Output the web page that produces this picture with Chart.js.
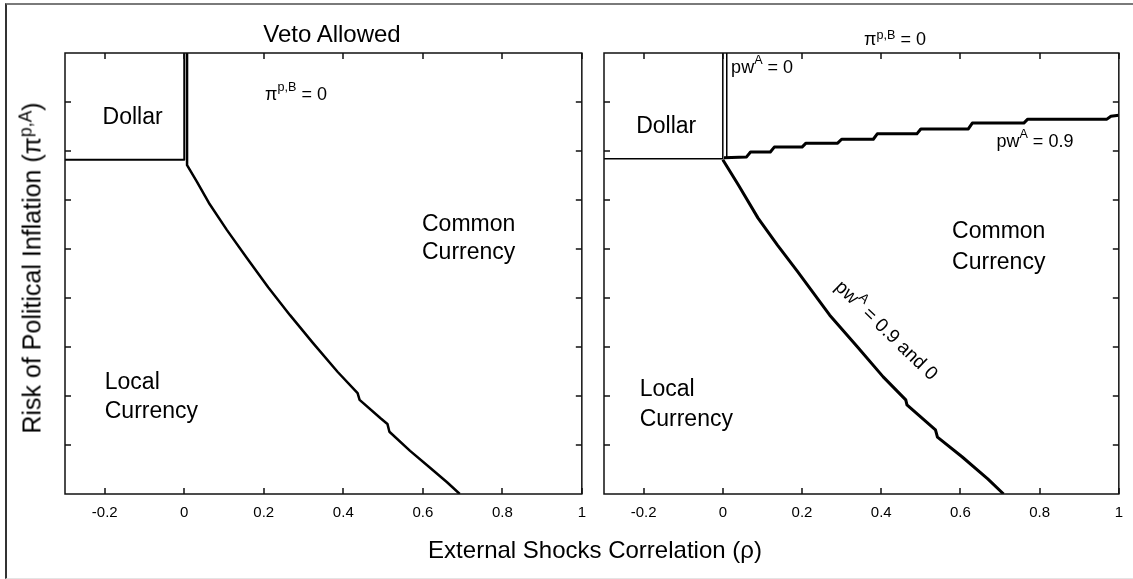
<!DOCTYPE html>
<html>
<head>
<meta charset="utf-8">
<script src="https://cdn.jsdelivr.net/npm/chart.js@4.4.0/dist/chart.umd.min.js"></script>
<style>
  body { margin: 0; background: #fff; }
  #wrap { position: relative; width: 1133px; height: 579px; overflow: hidden; font-family: "Liberation Sans", Arial, sans-serif; color: #000; }
  .frame { position: absolute; left: 5px; top: 3px; width: 1140px; height: 573px; border-top: 2px solid #7a7a7a; border-left: 2px solid #333; border-bottom: 1px solid #e4e4e4; }
  canvas { position: absolute; top: 0; }
  .txt { position: absolute; white-space: nowrap; line-height: 1; transform: translate(-50%, -50%); }
  .sup { font-size: 0.7em; position: relative; top: -0.5em; }
</style>
</head>
<body>
<div id="wrap">
  <div class="frame"></div>
  <canvas id="veto" width="596" height="579" style="left:0"></canvas>
  <canvas id="nopb" width="538" height="579" style="left:595px"></canvas>
  <div class="txt" style="left:332px;top:34px;font-size:24px">Veto Allowed</div>
  <div class="txt" style="left:895px;top:39px;font-size:18px">&pi;<span class="sup">p,B</span> = 0</div>
  <div class="txt" style="left:595px;top:550px;font-size:24px">External Shocks Correlation (&rho;)</div>
  <div class="txt" style="left:32px;top:268px;font-size:25px;transform:translate(-50%,-50%) rotate(-90deg)">Risk of Political Inflation (&pi;<span class="sup">p,A</span>)</div>
</div>
<script>
// x axis (rho) ticks, y axis has unlabeled ticks only
var rhoTicks = [-0.2, 0, 0.2, 0.4, 0.6, 0.8, 1];
var piTicks = [1, 2, 3, 4, 5, 6, 7, 8];

// left panel: veto allowed
var vetoDollarRho = [-0.3, 0.0, 0.0];
var vetoDollarPi = [6.82, 6.82, 9];
var vetoBoundRho = [0.007, 0.007, 0.032, 0.062, 0.107, 0.157, 0.211, 0.266, 0.324, 0.386, 0.436, 0.441, 0.493, 0.511, 0.516, 0.568, 0.616, 0.661, 0.693];
var vetoBoundPi = [9, 6.71, 6.37, 5.94, 5.39, 4.82, 4.22, 3.65, 3.08, 2.49, 2.06, 1.92, 1.55, 1.43, 1.27, 0.88, 0.55, 0.24, 0];

// right panel: pi^{p,B} = 0
var nopbDollarRho = [-0.3, 0.0, 0.0];
var nopbDollarPi = [6.84, 6.84, 9];
var pw0Rho = [0.01, 0.01];
var pw0Pi = [9, 6.86];
var pw09Rho = [0.003, 0.06, 0.07, 0.12, 0.13, 0.20, 0.21, 0.29, 0.30, 0.38, 0.39, 0.49, 0.50, 0.62, 0.63, 0.76, 0.77, 0.97, 0.98, 1.0];
var pw09Pi = [6.86, 6.88, 6.98, 6.98, 7.08, 7.08, 7.16, 7.16, 7.24, 7.24, 7.35, 7.35, 7.45, 7.45, 7.57, 7.57, 7.65, 7.65, 7.71, 7.73];
var pwBothRho = [0.0, 0.039, 0.089, 0.138, 0.188, 0.270, 0.338, 0.405, 0.462, 0.465, 0.537, 0.542, 0.604, 0.669, 0.709];
var pwBothPi = [6.82, 6.31, 5.63, 5.08, 4.55, 3.65, 3.02, 2.39, 1.92, 1.82, 1.31, 1.16, 0.76, 0.31, 0];

var FONT = '"Liberation Sans", Arial, sans-serif';

function pts(xs, ys) {
  return xs.map(function(v, i) { return {x: v, y: ys[i]}; });
}

function line(data, width, color) {
  return {data: data, borderColor: color || '#000', borderWidth: width, pointRadius: 0,
          fill: false, tension: 0, borderJoinStyle: 'round'};
}

// box with inward ticks like the original figure
var framePlugin = {
  id: 'frame',
  afterDraw: function(chart) {
    var ctx = chart.ctx, a = chart.chartArea, sx = chart.scales.x, sy = chart.scales.y;
    ctx.save();
    ctx.strokeStyle = '#111';
    ctx.lineWidth = 1.5;
    ctx.strokeRect(a.left, a.top, a.right - a.left, a.bottom - a.top);
    ctx.beginPath();
    rhoTicks.forEach(function(v) {
      var px = Math.round(sx.getPixelForValue(v));
      ctx.moveTo(px, a.bottom); ctx.lineTo(px, a.bottom - 6);
      ctx.moveTo(px, a.top); ctx.lineTo(px, a.top + 6);
    });
    piTicks.forEach(function(v) {
      var py = Math.round(sy.getPixelForValue(v));
      ctx.moveTo(a.left, py); ctx.lineTo(a.left + 6, py);
      ctx.moveTo(a.right, py); ctx.lineTo(a.right - 6, py);
    });
    ctx.stroke();
    ctx.restore();
  }
};

function drawRich(ctx, parts, x, y, size, align) {
  var widths = [], total = 0;
  parts.forEach(function(p) {
    ctx.font = (p[1] ? size * 0.7 : size) + 'px ' + FONT;
    var w = ctx.measureText(p[0]).width;
    widths.push(w); total += w;
  });
  var cx = align === 'left' ? x : x - total / 2;
  parts.forEach(function(p, i) {
    ctx.font = (p[1] ? size * 0.7 : size) + 'px ' + FONT;
    ctx.fillText(p[0], cx, p[1] ? y - size * 0.4 : y);
    cx += widths[i];
  });
}

function notesPlugin(notes) {
  return {
    id: 'notes',
    afterDatasetsDraw: function(chart) {
      var ctx = chart.ctx, sx = chart.scales.x, sy = chart.scales.y;
      ctx.save();
      ctx.fillStyle = '#000';
      ctx.textBaseline = 'middle';
      ctx.textAlign = 'left';
      notes.forEach(function(n) {
        var px = sx.getPixelForValue(n.x), py = sy.getPixelForValue(n.y);
        ctx.save();
        ctx.translate(px, py);
        if (n.rot) ctx.rotate(n.rot * Math.PI / 180);
        drawRich(ctx, n.parts, 0, 0, n.size, n.align);
        ctx.restore();
      });
      ctx.restore();
    }
  };
}

function makePanel(id, datasets, notes, padLeft, padRight) {
  var ctx = document.getElementById(id).getContext('2d');
  return new Chart(ctx, {
    type: 'line',
    data: {datasets: datasets},
    options: {
      responsive: false,
      animation: false,
      events: [],
      layout: {padding: {left: padLeft, right: padRight, top: 53, bottom: 0}},
      plugins: {legend: {display: false}, tooltip: {enabled: false}},
      scales: {
        x: {
          type: 'linear', min: -0.3, max: 1,
          afterBuildTicks: function(s) { s.ticks = rhoTicks.map(function(v) { return {value: v}; }); },
          afterFit: function(s) { s.height = 85; },
          grid: {display: false, drawTicks: false},
          border: {display: false},
          ticks: {padding: 10, color: '#000', autoSkip: false, maxRotation: 0,
                  font: {family: FONT, size: 15},
                  callback: function(v) { return String(v); }}
        },
        y: {type: 'linear', min: 0, max: 9, display: false}
      }
    },
    plugins: [framePlugin, notesPlugin(notes)]
  });
}

makePanel('veto', [
  line(pts(vetoDollarRho, vetoDollarPi), 2),
  line(pts(vetoBoundRho, vetoBoundPi), 2.5)
], [
  {parts: [['Dollar']], x: -0.13, y: 7.69, size: 23},
  {parts: [['\u03c0'], ['p,B', true], [' = 0']], x: 0.281, y: 8.14, size: 18},
  {parts: [['Common']], x: 0.598, y: 5.49, size: 23, align: 'left'},
  {parts: [['Currency']], x: 0.598, y: 4.92, size: 23, align: 'left'},
  {parts: [['Local']], x: -0.2, y: 2.27, size: 23, align: 'left'},
  {parts: [['Currency']], x: -0.2, y: 1.69, size: 23, align: 'left'}
], 65, 10);

makePanel('nopb', [
  line(pts(nopbDollarRho, nopbDollarPi), 1.5),
  line(pts(pw0Rho, pw0Pi), 1.5),
  line(pts(pw09Rho, pw09Pi), 3),
  line(pts(pw09Rho, pw09Pi), 1.2, '#fff'),
  line(pts(pwBothRho, pwBothPi), 3)
], [
  {parts: [['Dollar']], x: -0.143, y: 7.49, size: 23},
  {parts: [['pw'], ['A', true], [' = 0']], x: 0.021, y: 8.69, size: 18, align: 'left'},
  {parts: [['pw'], ['A', true], [' = 0.9']], x: 0.691, y: 7.18, size: 18, align: 'left'},
  {parts: [['Common']], x: 0.579, y: 5.35, size: 23, align: 'left'},
  {parts: [['Currency']], x: 0.579, y: 4.73, size: 23, align: 'left'},
  {parts: [['Local']], x: -0.21, y: 2.12, size: 23, align: 'left'},
  {parts: [['Currency']], x: -0.21, y: 1.51, size: 23, align: 'left'},
  {parts: [['pw'], ['A', true], [' = 0.9 and 0']], x: 0.412, y: 3.33, size: 19, rot: 44}
], 9, 7);
</script>
</body>
</html>
